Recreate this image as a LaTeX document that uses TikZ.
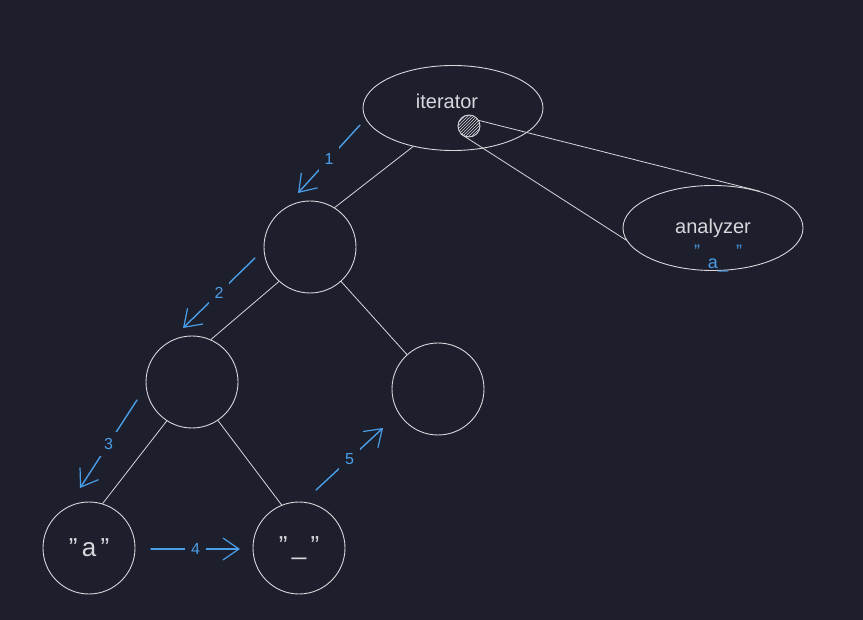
\documentclass[tikz,border=0pt]{standalone}
\usepackage{fontspec}
\setmainfont{Liberation Sans}
\usetikzlibrary{shapes.geometric,arrows.meta,patterns}
\definecolor{bgdark}{RGB}{30,31,44}
\definecolor{inkgrey}{RGB}{215,215,220}
\definecolor{inkblue}{RGB}{74,158,232}
\begin{document}
\begin{tikzpicture}[x=1pt,y=-1pt,line cap=round,line join=round,
  treenode/.style={circle,draw=inkgrey,line width=0.9pt,minimum size=92pt,inner sep=0pt,text=inkgrey,font=\fontsize{26}{28}\selectfont},
  bignode/.style={ellipse,draw=inkgrey,line width=0.9pt,minimum width=180pt,minimum height=85pt,inner sep=0pt,text=inkgrey,font=\fontsize{20}{22}\selectfont},
  edge/.style={draw=inkgrey,line width=0.8pt},
  stepArrow/.style={draw=inkblue,line width=1.4pt,-{Straight Barb[length=16pt,width=22pt,line width=1.2pt]}},
  stepLabel/.style={fill=bgdark,text=inkblue,inner sep=6pt,font=\fontsize{16}{18}\selectfont}]
\fill[bgdark] (0,0) rectangle (863,620);
\useasboundingbox (0,0) rectangle (863,620);
% iterator and analyzer
\node[bignode] (iter) at (453,108) {\raisebox{14pt}{iterator}\kern12pt};
\node[bignode] (ana) at (713,228) {analyzer};
\node[text=inkblue,font=\fontsize{18}{20}\selectfont,inner sep=0pt] (anaval) at (718,259) {"\kern8pt\raisebox{-11pt}{a\_}\kern8pt"};
\node[circle,draw=inkgrey,line width=0.9pt,minimum size=22pt,inner sep=0pt,pattern=north east lines,pattern color=inkgrey] (dot) at (469,126) {};
\draw[edge] (dot.29) -- (ana.38);
\draw[edge] (dot.225) -- (ana.188);
% tree
\node[treenode] (n1) at (310,247) {};
\node[treenode] (n2) at (192,382) {};
\node[treenode] (n3) at (438,389) {};
\node[treenode] (leafa) at (89,548) {"\,a\,"};
\node[treenode] (leafb) at (299,548) {"\,\_\,"};
\draw[edge] (iter.224) -- (n1.58);
\draw[edge] (n1.228) -- (n2.66);
\draw[edge] (n1) -- (n3);
\draw[edge] (n2.237) -- (leafa.73);
\draw[edge] (n2.304) -- (leafb.112);
% traversal steps
\coordinate (s1) at (360,125); \coordinate (e1) at (298,193);
\coordinate (s2) at (255,258); \coordinate (e2) at (183,328);
\coordinate (s3) at (137,400); \coordinate (e3) at (80,488);
\coordinate (s4) at (151,549); \coordinate (e4) at (240,549);
\coordinate (s5) at (316,490); \coordinate (e5) at (383,428);
\foreach \i in {1,...,5}
\draw[stepArrow] (s\i) -- node[stepLabel] {\i} (e\i);
\end{tikzpicture}
\end{document}
